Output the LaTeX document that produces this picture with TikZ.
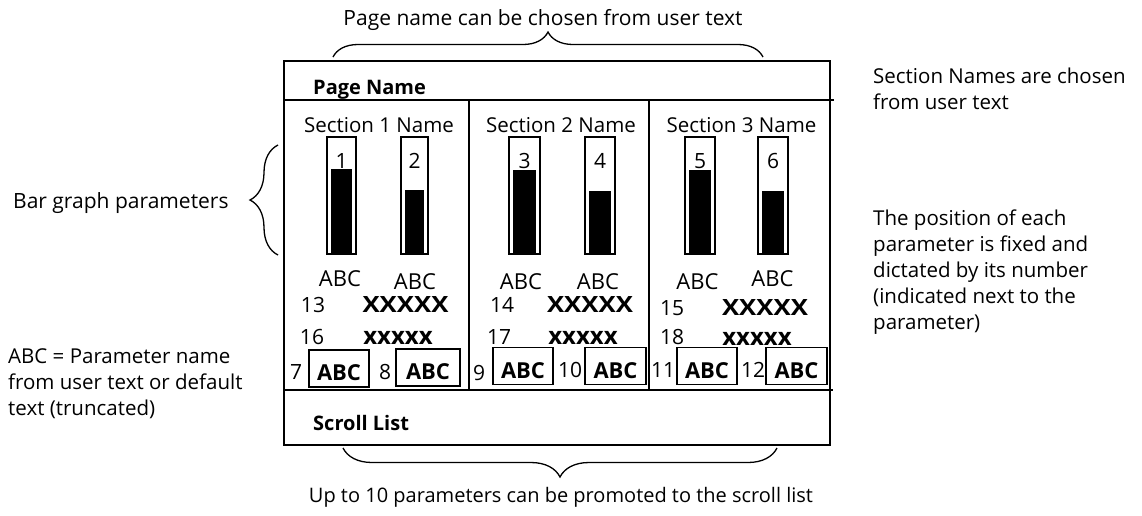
\documentclass[tikz,border=0pt]{standalone}
\usepackage{fontspec}
\setmainfont{Open Sans}
\newfontfamily\valfont[FakeStretch=1.15]{Open Sans}
\usetikzlibrary{decorations.pathreplacing}

\begin{document}
\begin{tikzpicture}[x=1pt,y=-1pt,
  txt/.style={font={\fontsize{21}{26}\selectfont}, anchor=base, inner sep=0pt},
  abc/.style={font={\fontsize{22}{26}\selectfont}, anchor=base, inner sep=0pt},
  hdr/.style={font={\fontsize{20}{24}\selectfont\bfseries}, anchor=base west, inner sep=0pt},
  secname/.style={font={\fontsize{20.5}{24}\selectfont}, anchor=base, inner sep=0pt},
  note/.style={font={\fontsize{20.5}{26}\selectfont}, align=left, anchor=north west, inner sep=0pt},
  valbig/.style={font={\valfont\fontsize{22.4}{24}\selectfont\bfseries}, anchor=base, inner sep=0pt},
  valsmall/.style={font={\fontsize{24}{26}\selectfont\bfseries}, anchor=base, inner sep=0pt},
  abcbox/.style={draw, line width=1.3pt, font={\fontsize{22}{24}\selectfont\bfseries}, minimum width=60pt, minimum height=37pt, inner sep=0pt, text height=24pt, text depth=0pt},
  frame/.style={line width=1.4pt},
  gauge/.style={line width=1.2pt},
  brc/.style={line width=1.3pt, decorate, decoration={brace, amplitude=#1}}
]
\useasboundingbox (0,0) rectangle (1142,515);
\draw[frame] (284,61) rectangle (830,445);
\coordinate (hl1) at (285,100);
\coordinate (hr1) at (834,100);
\coordinate (hl2) at (284,390);
\coordinate (hr2) at (833,390);
\draw[frame] (hl1) -- (hr1);
\draw[frame] (hl2) -- (hr2);
\draw[frame] (469,100) -- (469,390);
\draw[frame] (649,100) -- (649,390);
\node[hdr] (pagename) at (313,94) {Page Name};
\node[hdr] (scroll) at (313,430) {Scroll List};
\node[secname] (sec1) at (379,132) {Section 1 Name};
\node[secname] (sec2) at (561,132) {Section 2 Name};
\node[secname] (sec3) at (741.5,132) {Section 3 Name};
\draw[gauge] (327,137) rectangle (356,254);
\fill (331,169) rectangle (352,253);
\draw[gauge] (401,137) rectangle (428,254);
\fill (405,190) rectangle (424,253);
\draw[gauge] (509,137) rectangle (540,254);
\fill (513,170) rectangle (536,253);
\draw[gauge] (585,137) rectangle (615,254);
\fill (589,191) rectangle (611,253);
\draw[gauge] (685,137) rectangle (715,254);
\fill (689,170) rectangle (711,253);
\draw[gauge] (758,137) rectangle (788,254);
\fill (762,191) rectangle (784,253);
\node[txt] (g1) at (341.5,168) {1};
\node[txt] (g2) at (414.5,168) {2};
\node[txt] (g3) at (524.5,168) {3};
\node[txt] (g4) at (600,168) {4};
\node[txt] (g5) at (700,168) {5};
\node[txt] (g6) at (773,168) {6};
\node[abc] (abc1) at (340,286) {ABC};
\node[abc] (abc2) at (415,289) {ABC};
\node[abc] (abc3) at (521,289) {ABC};
\node[abc] (abc4) at (598,289) {ABC};
\node[abc] (abc5) at (697.5,289) {ABC};
\node[abc] (abc6) at (772.5,286.5) {ABC};
\node[txt] (n13) at (313,312) {13};
\node[valbig] (v13) at (405.5,312) {XXXXX};
\node[txt] (n14) at (502,312) {14};
\node[valbig] (v14) at (590,312) {XXXXX};
\node[txt] (n15) at (672,315) {15};
\node[valbig] (v15) at (765,315) {XXXXX};
\node[txt] (n16) at (312,344) {16};
\node[valsmall] (v16) at (398,344) {xxxxx};
\node[txt] (n17) at (499,344) {17};
\node[valsmall] (v17) at (583,344) {xxxxx};
\node[txt] (n18) at (672,344) {18};
\node[valsmall] (v18) at (757,345) {xxxxx};
\node[txt] (n7) at (296,379) {7};
\node[abcbox] (b7) at (339,368.5) {ABC};
\node[txt] (n8) at (385,379) {8};
\node[abcbox, minimum width=64pt] (b8) at (428,367.5) {ABC};
\node[txt] (n9) at (479,380) {9};
\node[abcbox] (b9) at (523,366) {ABC};
\node[txt] (n10) at (570,377) {10};
\node[abcbox, minimum width=61pt] (b10) at (615.5,366) {ABC};
\node[txt] (n11) at (663,377) {11};
\node[abcbox] (b11) at (707,366) {ABC};
\node[txt] (n12) at (753,377) {12};
\node[abcbox, minimum width=61pt] (b12) at (796.5,366) {ABC};
\coordinate (tbl) at (333,57);
\coordinate (tbr) at (763,57);
\draw[brc=25pt] (tbl) -- (tbr);
\node[txt] (pagecap) at (543,25) {Page name can be chosen from user text};
\coordinate (bbr) at (777,448);
\coordinate (bbl) at (343,448);
\draw[brc=29pt] (bbr) -- (bbl);
\node[txt, font={\fontsize{20}{26}\selectfont}] (scrollcap) at (561,502) {Up to 10 parameters can be promoted to the scroll list};
\coordinate (lbb) at (278,255);
\coordinate (lbt) at (278,145);
\draw[brc=28pt] (lbb) -- (lbt);
\node[txt, anchor=base west] (barcap) at (13,208) {Bar graph parameters};
\node[note] (abcnote) at (8,348) {ABC = Parameter name\\from user text or default\\text (truncated)};
\node[note] (secnote) at (873,68) {Section Names are chosen\\from user text};
\node[note] (posnote) at (873,210) {The position of each\\parameter is fixed and\\dictated by its number\\(indicated next to the\\parameter)};
\end{tikzpicture}
\end{document}
